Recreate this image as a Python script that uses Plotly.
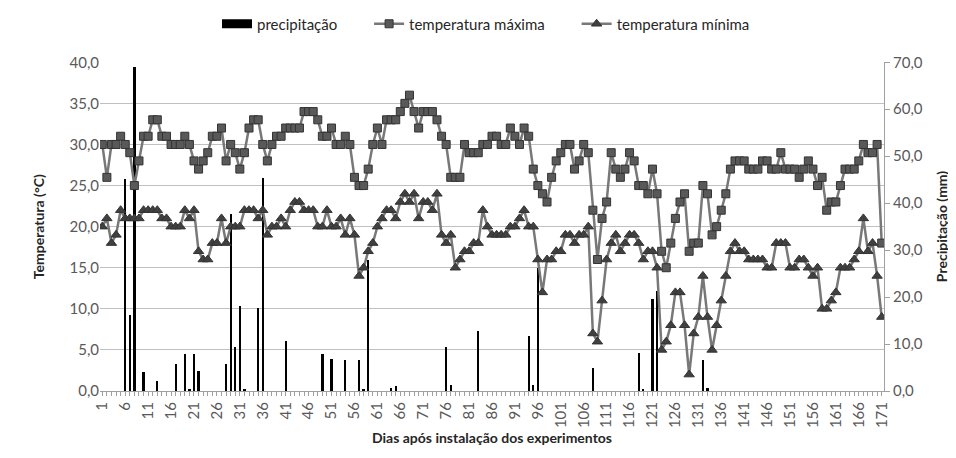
import plotly.graph_objects as go

days = list(range(1, 172))

tmax = [30, 26, 30, 30, 31, 30, 29, 25, 28, 31,
        31, 33, 33, 31, 31, 30, 30, 30, 31, 30,
        28, 27, 28, 29, 31, 31, 32, 28, 30, 29,
        27, 29, 32, 33, 33, 30, 28, 30, 31, 31,
        32, 32, 32, 32, 34, 34, 34, 33, 31, 31,
        32, 30, 30, 31, 30, 26, 25, 25, 27, 30,
        32, 30, 33, 33, 33, 34, 35, 36, 34, 32,
        34, 34, 34, 33, 31, 30, 26, 26, 26, 30,
        29, 29, 29, 30, 30, 31, 31, 30, 30, 32,
        31, 30, 32, 31, 27, 25, 24, 23, 26, 28,
        29, 30, 30, 27, 28, 30, 29, 22, 16, 21,
        23, 29, 27, 26, 27, 29, 28, 25, 25, 24,
        27, 24, 17, 15, 18, 21, 23, 24, 17, 18,
        18, 25, 24, 19, 20, 22, 24, 27, 28, 28,
        28, 27, 27, 27, 28, 28, 27, 27, 29, 27,
        27, 27, 26, 27, 28, 27, 25, 26, 22, 23,
        23, 25, 27, 27, 27, 28, 30, 29, 29, 30,
        18]

tmin = [20, 21, 18, 19, 22, 21, 21, 21, 21, 22,
        22, 22, 22, 21, 21, 20, 20, 20, 22, 21,
        22, 17, 16, 16, 18, 18, 21, 18, 20, 20,
        20, 22, 22, 22, 21, 22, 19, 20, 20, 21,
        20, 22, 23, 23, 22, 22, 22, 20, 20, 22,
        20, 20, 21, 19, 21, 19, 14, 15, 17, 18,
        20, 21, 22, 22, 21, 23, 24, 23, 24, 21,
        23, 23, 22, 24, 19, 18, 19, 15, 16, 17,
        17, 18, 18, 22, 20, 19, 19, 19, 19, 20,
        20, 21, 22, 20, 20, 16, 12, 16, 16, 17,
        17, 19, 19, 18, 19, 19, 20, 7, 6, 11,
        16, 18, 19, 17, 18, 19, 19, 18, 16, 17,
        17, 15, 5, 6, 8, 12, 12, 8, 2, 7,
        9, 14, 9, 5, 8, 11, 14, 17, 18, 17,
        17, 16, 16, 16, 16, 15, 15, 18, 18, 18,
        15, 15, 16, 16, 15, 14, 15, 10, 10, 11,
        12, 15, 15, 15, 16, 17, 21, 17, 18, 14,
        9]

rain_days = [6, 7, 8, 10, 13, 17, 19, 20, 21, 22,
             28, 29, 30, 31, 32, 35, 36, 41, 49, 51,
             54, 57, 58, 59, 64, 65, 76, 77, 83, 94,
             95, 96, 108, 118, 119, 121, 122, 132, 133]
rain_vals = [45.1, 16.1, 68.9, 3.9, 2.0, 5.7, 7.9, 0.4, 7.9, 4.1,
             5.6, 37.7, 9.4, 18.0, 0.4, 17.7, 45.3, 10.6, 7.9, 6.7,
             6.5, 6.5, 0.4, 27.9, 0.5, 1.1, 9.4, 1.3, 12.7, 11.7,
             1.3, 26.2, 4.8, 8.1, 0.3, 19.6, 21.2, 6.5, 0.5]

precip = [0.0] * len(days)
for d, v in zip(rain_days, rain_vals):
    precip[d - 1] = v

temp_ticks = [0, 5, 10, 15, 20, 25, 30, 35, 40]
rain_ticks = [0, 10, 20, 30, 40, 50, 60, 70]
x_labels = [str(d) if (d - 1) % 5 == 0 else "" for d in days]

def fmt(v):
    return f"{v:.1f}".replace(".", ",")

FONT = "Lato, 'Open Sans', sans-serif"
TICKCOL = "#595959"
TITLECOL = "#262626"
PAD = "\u00a0" * 7

fig = go.Figure()

fig.add_trace(go.Bar(
    x=days, y=precip, name="precipitação", yaxis="y",
    marker=dict(color="black", line=dict(width=0)),
    width=0.5, showlegend=False,
))
# legend entry for the bars: a wide black rectangle as in the reference
fig.add_trace(go.Scatter(
    x=[None], y=[None], name="precipitação" + PAD, yaxis="y", mode="lines",
    line=dict(color="black", width=9),
))
fig.add_trace(go.Scatter(
    x=days, y=tmax, name="temperatura máxima" + PAD, yaxis="y2",
    mode="lines+markers",
    line=dict(color="#787878", width=2.5),
    marker=dict(symbol="square", size=8, color="#595959",
                line=dict(color="#333333", width=1)),
))
fig.add_trace(go.Scatter(
    x=days, y=tmin, name="temperatura mínima", yaxis="y2",
    mode="lines+markers",
    line=dict(color="#787878", width=2.5),
    marker=dict(symbol="triangle-up", size=9, color="#404040",
                line=dict(color="#333333", width=1)),
))

fig.update_layout(
    width=956, height=458,
    margin=dict(l=92, r=80, t=45, b=75),
    paper_bgcolor="white", plot_bgcolor="white",
    font=dict(family=FONT, size=15, color=TICKCOL),
    showlegend=True,
    legend=dict(orientation="h", xref="container", x=0.5, xanchor="center",
                yref="container", y=0.965, yanchor="middle",
                font=dict(size=15, color=TITLECOL), itemwidth=30,
                traceorder="normal"),
    bargap=0,
    xaxis=dict(
        range=[0.5, 171.5], tickmode="array", tickvals=days, ticktext=x_labels,
        tickangle=-90, ticks="outside", ticklen=4, tickcolor="#a0a0a0",
        showgrid=False, zeroline=False, showline=True, linecolor="#a0a0a0",
        linewidth=1, tickfont=dict(size=15, color=TICKCOL),
    ),
    yaxis=dict(
        side="right", range=[0, 70], tickmode="array", tickvals=rain_ticks,
        ticktext=[fmt(v) for v in rain_ticks], showgrid=False, zeroline=False,
        showline=True, linecolor="#a0a0a0", ticks="outside", ticklen=5,
        tickcolor="#a0a0a0", tickfont=dict(size=15, color=TICKCOL),
    ),
    yaxis2=dict(
        side="left", overlaying="y", range=[0, 40], tickmode="array",
        tickvals=temp_ticks, ticktext=[fmt(v) for v in temp_ticks],
        showgrid=True, gridcolor="#c0c0c0", gridwidth=1, zeroline=False,
        showline=False, ticks="", tickfont=dict(size=15, color=TICKCOL),
    ),
    annotations=[
        dict(text="<b>Temperatura (°C)</b>", xref="paper", yref="paper",
             x=0, y=0.5, xshift=-72, textangle=-90, showarrow=False,
             font=dict(size=14, color=TITLECOL)),
        dict(text="<b>Precipitação (mm)</b>", xref="paper", yref="paper",
             x=1, y=0.5, xshift=68, textangle=-90, showarrow=False,
             font=dict(size=14, color=TITLECOL)),
        dict(text="<b>Dias após instalação dos experimentos</b>", xref="paper",
             yref="paper", x=0.5, y=0, yshift=-57, showarrow=False,
             font=dict(size=14, color=TITLECOL)),
    ],
)

fig.write_html("out.html")
